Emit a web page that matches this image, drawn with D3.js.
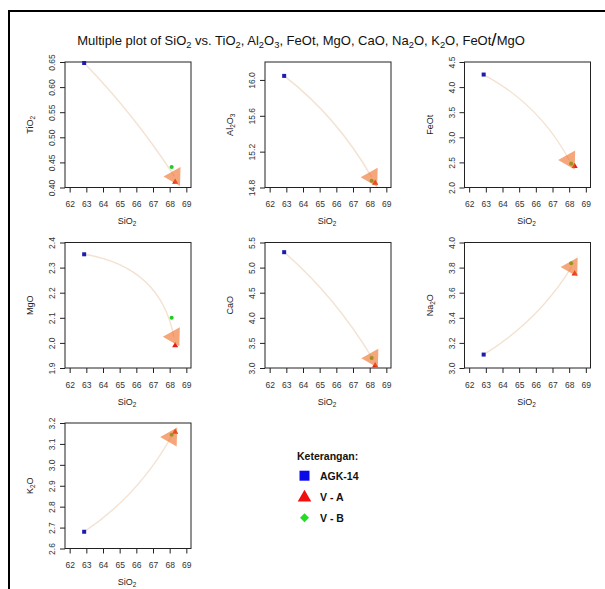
<!DOCTYPE html>
<html>
<head>
<meta charset="utf-8">
<script src="https://cdn.jsdelivr.net/npm/d3@7"></script>
<style>
  body { margin: 0; background: #fff; }
  svg { display: block; font-family: "Liberation Sans", Arial, sans-serif; }
</style>
</head>
<body>
<svg id="chart" width="605" height="589"></svg>
<script>
const samples = ["AGK-14", "V - A", "V - B"];
const sio2 = [62.87, 68.33, 68.12];

const tio2  = [0.648, 0.411, 0.441];
const al2o3 = [16.045, 14.85, 14.875];
const feot  = [4.25, 2.425, 2.475];
const mgo   = [2.353, 1.99, 2.10];
const cao   = [5.307, 3.05, 3.20];
const na2o  = [3.107, 3.752, 3.835];
const k2o   = [2.68, 3.157, 3.144];

const oxideLabels = ["TiO2", "Al2O3", "FeOt", "MgO", "CaO", "Na2O", "K2O"];
const oxideValues = [tio2, al2o3, feot, mgo, cao, na2o, k2o];

// centre of the orange arrow heads (SiO2, oxide)
const arrowX = [68.29, 68.12, 68.0, 68.25, 68.16, 68.15, 68.09];
const arrowY = [0.422, 14.915, 2.548, 2.025, 3.195, 3.805, 3.133];

const xTicks = [62, 63, 64, 65, 66, 67, 68, 69];
const yLimits = [[0.40, 0.65], [14.8, 16.2], [2.0, 4.5], [1.9, 2.4], [3.0, 5.5], [3.0, 4.0], [2.6, 3.2]];
const yTicks = [
  [0.40, 0.45, 0.50, 0.55, 0.60, 0.65],
  [14.8, 15.2, 15.6, 16.0],
  [2.0, 2.5, 3.0, 3.5, 4.0, 4.5],
  [1.9, 2.0, 2.1, 2.2, 2.3, 2.4],
  [3.0, 3.5, 4.0, 4.5, 5.0, 5.5],
  [3.0, 3.2, 3.4, 3.6, 3.8, 4.0],
  [2.6, 2.7, 2.8, 2.9, 3.0, 3.1, 3.2]
];
const yFormats = [".2f", ".1f", ".1f", ".1f", ".1f", ".1f", ".1f"];

// how much each connecting curve bows
const bends = [0.05, 0.1, 0.15, 0.35, 0.08, 0.12, 0.12];

const svg = d3.select("#chart");

// chemical formula with subscript digits
function formula(text, str, size) {
  let low = false;
  str.match(/\d+|\D+/g).forEach(p => {
    const t = text.append("tspan").text(p);
    if (/\d/.test(p)) {
      t.attr("font-size", size * 0.72).attr("dy", size * 0.25);
      low = true;
    } else if (low) {
      t.attr("dy", -size * 0.25);
      low = false;
    }
  });
}

// outer frame
svg.append("path")
  .attr("d", "M9,589V11H605")
  .attr("fill", "none")
  .attr("stroke", "#000")
  .attr("stroke-width", 2);

// title
const title = svg.append("text")
  .attr("x", 301).attr("y", 45)
  .attr("text-anchor", "middle")
  .attr("font-size", 13)
  .attr("fill", "#111");
formula(title, "Multiple plot of SiO2 vs. TiO2, Al2O3, FeOt, MgO, CaO, Na2O, K2O, FeOt", 13);
title.append("tspan").attr("font-size", 19).attr("dy", 1).text("/");
title.append("tspan").attr("dy", -1).text("MgO");

const panelW = 126, panelH = 125.5;
const colX = [65, 265, 464.5];
const rowY = [62, 242.5, 423];

const x = d3.scaleLinear().domain([61.72, 69.28]).range([0, panelW]);

const pointColors = ["#1c1cb0", "#e02018", "#22cc22"];
const markerShapes = [d3.symbolSquare, d3.symbolTriangle, d3.symbolCircle];
const markerSizes = [16, 16, 13];

oxideLabels.forEach((label, i) => {
  const g = svg.append("g")
    .attr("transform", `translate(${colX[i % 3]},${rowY[Math.floor(i / 3)]})`);
  const y = d3.scaleLinear().domain(yLimits[i]).range([panelH, 0]);
  const vals = oxideValues[i];

  // x axis
  const xa = g.append("g")
    .attr("transform", `translate(0,${panelH})`)
    .call(d3.axisBottom(x).tickValues(xTicks).tickSize(5).tickFormat(d3.format("d")));
  xa.select(".domain").remove();
  xa.selectAll("line").attr("stroke", "#222");
  xa.selectAll("text")
    .attr("y", 17).attr("dy", "0.32em")
    .attr("font-family", null)
    .attr("font-size", 8.5).attr("fill", "#333");

  // y axis with rotated labels
  const ya = g.append("g")
    .call(d3.axisLeft(y).tickValues(yTicks[i]).tickSize(5).tickFormat(d3.format(yFormats[i])));
  ya.select(".domain").remove();
  ya.selectAll("line").attr("stroke", "#222");
  ya.selectAll("text")
    .attr("transform", "rotate(-90)")
    .attr("x", 0).attr("y", -10).attr("dy", 0)
    .attr("text-anchor", "middle")
    .attr("font-family", null)
    .attr("font-size", 8.5).attr("fill", "#333");

  g.append("rect")
    .attr("width", panelW).attr("height", panelH)
    .attr("fill", "none").attr("stroke", "#222").attr("stroke-width", 1);

  // axis titles
  const xt = g.append("text")
    .attr("x", panelW / 2 - 1).attr("y", panelH + 36.5)
    .attr("text-anchor", "middle").attr("font-size", 9).attr("fill", "#222");
  formula(xt, "SiO2", 9);
  const yt = g.append("text")
    .attr("transform", `translate(-32,${panelH / 2}) rotate(-90)`)
    .attr("text-anchor", "middle").attr("font-size", 9).attr("fill", "#222");
  formula(yt, label, 9);

  // curved link from AGK-14 to the arrow head
  const x0 = x(sio2[0]), y0 = y(vals[0]);
  const x1 = x(arrowX[i]), y1 = y(arrowY[i]);
  const mx = (x0 + x1) / 2, my = (y0 + y1) / 2;
  const cx = mx + bends[i] * (x1 - mx) * 2, cy = my + bends[i] * (y0 - my) * 2;
  const path = d3.path();
  path.moveTo(x0, y0);
  path.quadraticCurveTo(cx, cy, x1, y1);
  g.append("path")
    .attr("d", path.toString())
    .attr("fill", "none")
    .attr("stroke", "#f3e2d1")
    .attr("stroke-width", 1.4);

  // sample points
  g.selectAll(".pt")
    .data(samples)
    .join("path")
    .attr("class", "pt")
    .attr("transform", (d, j) => `translate(${x(sio2[j])},${y(vals[j])})`)
    .attr("d", (d, j) => d3.symbol(markerShapes[j], markerSizes[j])())
    .attr("fill", (d, j) => pointColors[j]);

  // orange arrow head, drawn translucent over the points
  g.append("path")
    .attr("transform", `translate(${x1},${y1})`)
    .attr("d", "M-11,0L6,-9.5L5.5,9.5Z")
    .attr("fill", "#ee6a22")
    .attr("fill-opacity", 0.6);
});

// legend
const legend = svg.append("g").attr("font-size", 10.5).attr("font-weight", "bold").attr("fill", "#111");
legend.append("text").attr("x", 297).attr("y", 460).text("Keterangan:");
const legendColors = ["#0a0ae8", "#f01010", "#22dd22"];
const legendShapes = [d3.symbolSquare, d3.symbolTriangle, d3.symbolSquare];
const legendSizes = [100, 80, 40];
const legendTurn = [0, 0, 45];
samples.forEach((s, j) => {
  const cy = 475.7 + j * 21;
  legend.append("path")
    .attr("transform", `translate(304.5,${cy + (j === 1 ? 1 : 0)}) rotate(${legendTurn[j]})`)
    .attr("d", d3.symbol(legendShapes[j], legendSizes[j])())
    .attr("fill", legendColors[j]);
  legend.append("text").attr("x", 320).attr("y", cy + 3.8).text(s);
});
</script>
</body>
</html>
